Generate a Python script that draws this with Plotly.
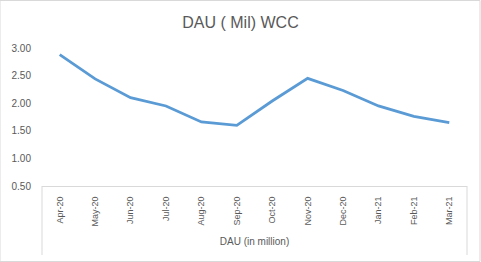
import plotly.graph_objects as go

months = ["Apr-20", "May-20", "Jun-20", "Jul-20", "Aug-20", "Sep-20",
          "Oct-20", "Nov-20", "Dec-20", "Jan-21", "Feb-21", "Mar-21"]
dau = [2.88, 2.44, 2.10, 1.95, 1.66, 1.60, 2.04, 2.45, 2.23, 1.95, 1.76, 1.65]
yticks = [0.5, 1.0, 1.5, 2.0, 2.5, 3.0]

fig = go.Figure()
fig.add_trace(go.Scatter(x=months, y=dau, mode="lines",
                         line=dict(color="#5B9BD5", width=2.8)))

grey = "#595959"
fig.update_layout(
    width=481, height=262,
    margin=dict(l=42, r=14, t=48, b=76),
    paper_bgcolor="white", plot_bgcolor="white",
    showlegend=False,
    title=dict(text="DAU ( Mil) WCC", x=0.5, xanchor="center", y=0.915, yanchor="middle",
               font=dict(family="Liberation Sans, Arial", size=16, color=grey)),
    xaxis=dict(type="category", range=[-0.5, 11.5], tickangle=-90,
               tickfont=dict(family="Liberation Sans, Arial", size=9, color=grey),
               showgrid=False, zeroline=False, showline=True, linecolor="#D9D9D9", linewidth=1,
               ticks="outside", ticklen=6, tickcolor="rgba(0,0,0,0)",
               title=dict(text="DAU (in million)", standoff=12,
                          font=dict(family="Liberation Sans, Arial", size=10, color=grey))),
    yaxis=dict(range=[0.5, 3.0], tickvals=yticks, tickformat=".2f",
               tickfont=dict(family="Liberation Sans, Arial", size=10, color=grey),
               showgrid=False, zeroline=False, showline=False,
               ticks="outside", ticklen=8, tickcolor="rgba(0,0,0,0)"),
    shapes=[
        dict(type="line", xref="paper", yref="paper", x0=0, x1=0, y0=0, y1=-0.5,
             line=dict(color="#D9D9D9", width=1)),
        dict(type="line", xref="paper", yref="paper", x0=1, x1=1, y0=0, y1=-0.5,
             line=dict(color="#D9D9D9", width=1)),
        dict(type="rect", xref="paper", yref="paper", x0=-42/425, x1=1+13/425,
             y0=-75.5/138, y1=1+47.5/138, line=dict(color="#D9D9D9", width=1)),
    ],
)
fig.write_html("out.html")
